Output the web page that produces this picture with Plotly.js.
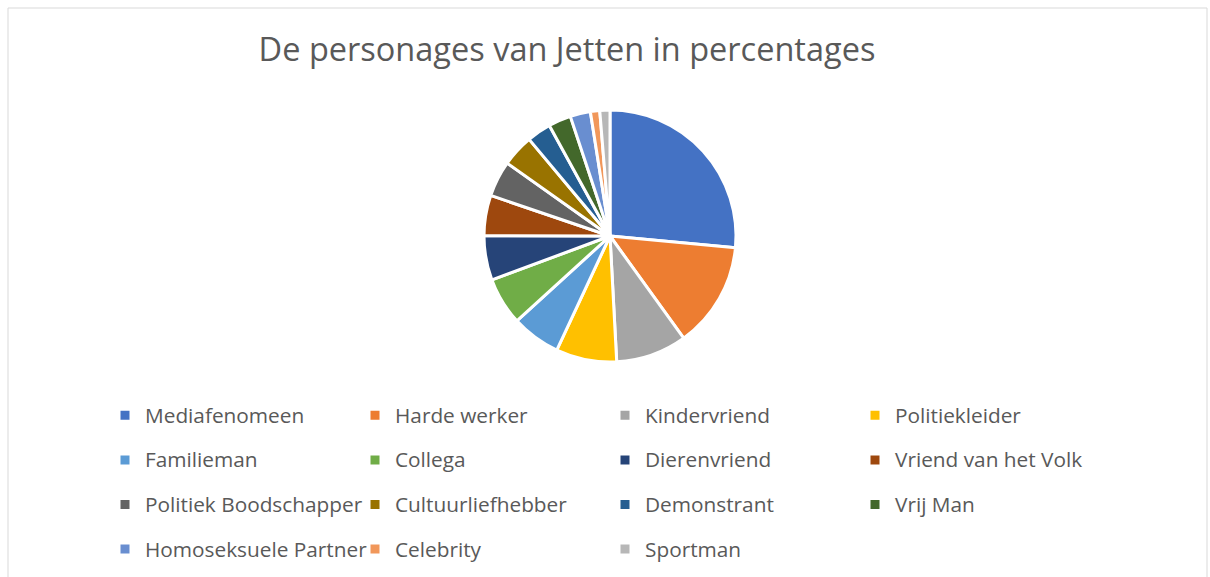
<!DOCTYPE html>
<html>
<head>
<meta charset="utf-8">
<script src="https://cdn.plot.ly/plotly-3.0.1.min.js"></script>
<style>html,body{margin:0;padding:0;background:#fff;}#chart{width:1210px;height:577px;}</style>
</head>
<body>
<div id="chart"></div>
<script>
const categories = ["Mediafenomeen","Harde werker","Kindervriend","Politiekleider","Familieman","Collega","Dierenvriend","Vriend van het Volk","Politiek Boodschapper","Cultuurliefhebber","Demonstrant","Vrij Man","Homoseksuele Partner","Celebrity","Sportman"];
const percentages = [26.5,13.6,9.1,7.8,6.3,6.1,5.7,5.2,4.6,4.1,3.1,2.9,2.6,1.2,1.3];
const colors = ["#4472C4","#ED7D31","#A5A5A5","#FFC000","#5B9BD5","#70AD47","#264478","#9E480E","#636363","#997300","#255E91","#43682B","#698ED0","#F1975A","#B7B7B7"];
const W = 1210, H = 577;
const cx = 610, cy = 236, r = 126;
const legendLabels = categories.map(c => '<span style="font-size:20.8px;baseline-shift:5px">' + c + '</span>');
const trace = {
  type: "pie",
  labels: legendLabels,
  values: percentages,
  sort: false,
  direction: "clockwise",
  rotation: 0,
  textinfo: "none",
  marker: {colors: colors, line: {color: "#ffffff", width: 3}},
  domain: {x: [(cx - r) / W, (cx + r) / W], y: [1 - (cy + r) / H, 1 - (cy - r) / H]}
};
const layout = {
  width: W, height: H,
  margin: {l: 0, r: 0, t: 0, b: 0, autoexpand: false},
  paper_bgcolor: "#ffffff",
  font: {family: "Open Sans, Noto Sans, sans-serif", color: "#595959"},
  title: {text: "De personages van Jetten in percentages", x: 567 / W, xanchor: "center", y: 1 - 50 / H, yanchor: "middle", font: {size: 32.5, color: "#595959"}},
  showlegend: true,
  legend: {orientation: "h", x: 105 / W, xanchor: "left", y: 1 - 388 / H, yanchor: "top", entrywidth: 205, entrywidthmode: "pixels", font: {size: 32, color: "#595959"}, itemwidth: 30, tracegroupgap: 0},
  shapes: [{type: "rect", xref: "paper", yref: "paper", x0: 8 / W, x1: 1207 / W, y0: -0.05, y1: 1 - 8 / H, line: {color: "#D9D9D9", width: 1}}]
};
Plotly.newPlot("chart", [trace], layout, {displayModeBar: false, staticPlot: true});
</script>
</body>
</html>
